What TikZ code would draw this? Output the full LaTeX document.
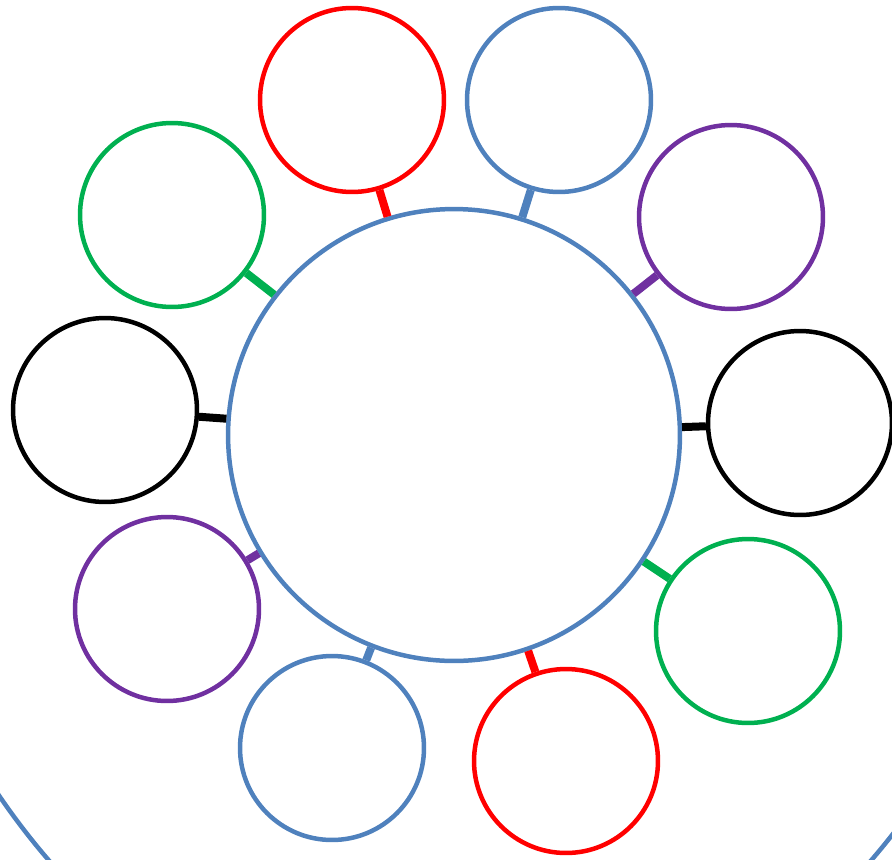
\documentclass[tikz,border=0pt]{standalone}
\usepackage{tikz}
\definecolor{CB}{RGB}{79, 129, 189}
\definecolor{CR}{RGB}{255, 0, 0}
\definecolor{CG}{RGB}{0, 176, 80}
\definecolor{CP}{RGB}{112, 48, 160}
\definecolor{CK}{RGB}{0, 0, 0}

\begin{document}
\begin{tikzpicture}[x=0.02cm, y=-0.02cm,
        ring/.style={circle, draw, line width=0.09cm, minimum size=3.68cm, inner sep=0pt},
        hub/.style={circle, draw=CB, line width=0.09cm, minimum size=9.04cm, inner sep=0pt},
        link/.style={line width=0.16cm}]
    \useasboundingbox (0,0) rectangle (892,859);
    \begin{scope}
        \clip (0,0) rectangle (892,859);
        \draw[CB, line width=0.09cm] (460,300) ellipse [x radius=12.14cm, y radius=15.24cm];
    \end{scope}
    \node[hub] (hub) at (454,435) {};
    \node[ring, draw=CR] (redTop)     at (352,100) {};
    \node[ring, draw=CB] (blueTop)    at (559,100) {};
    \node[ring, draw=CP] (purpleR)    at (731,217) {};
    \node[ring, draw=CK] (blackR)     at (800,423) {};
    \node[ring, draw=CG] (greenR)     at (748,631) {};
    \node[ring, draw=CR] (redBot)     at (566,761) {};
    \node[ring, draw=CB] (blueBot)    at (332,748) {};
    \node[ring, draw=CP] (purpleL)    at (167,609) {};
    \node[ring, draw=CK] (blackL)     at (105,410) {};
    \node[ring, draw=CG] (greenL)     at (172,215) {};
    \draw[link, CR] (hub) -- (redTop);
    \draw[link, CB] (hub) -- (blueTop);
    \draw[link, CP] (hub) -- (purpleR);
    \draw[link, CK] (hub) -- (blackR);
    \draw[link, CG] (hub) -- (greenR);
    \draw[link, CR] (hub) -- (redBot);
    \draw[link, CB] (hub) -- (blueBot);
    \draw[link, CP] (hub) -- (purpleL);
    \draw[link, CK] (hub) -- (blackL);
    \draw[link, CG] (hub) -- (greenL);
\end{tikzpicture}
\end{document}
